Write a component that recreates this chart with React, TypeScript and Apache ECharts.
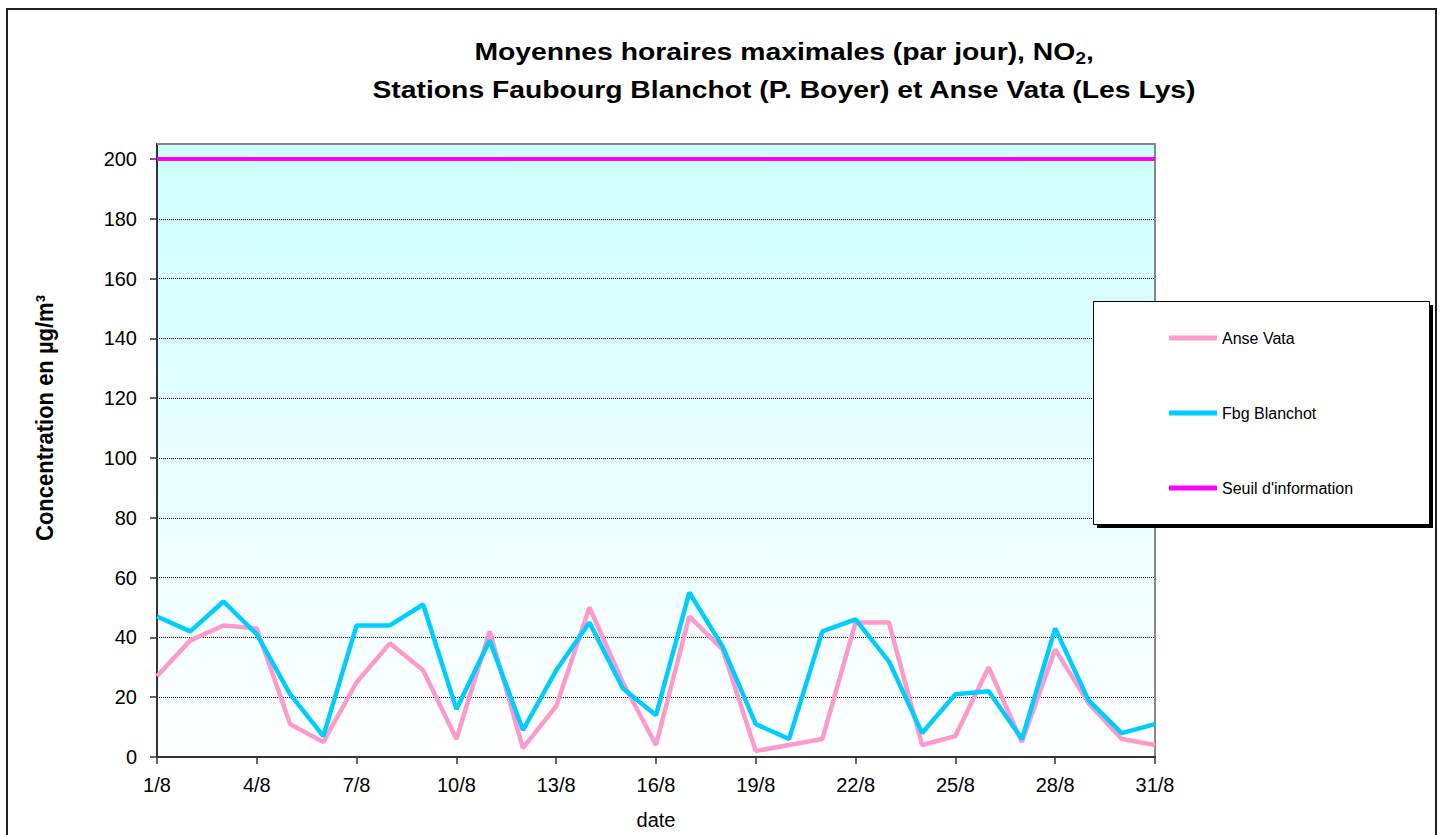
import React, { useEffect, useRef } from "react";
import * as echarts from "echarts";

const days = [
  "1/8", "2/8", "3/8", "4/8", "5/8", "6/8", "7/8", "8/8", "9/8", "10/8",
  "11/8", "12/8", "13/8", "14/8", "15/8", "16/8", "17/8", "18/8", "19/8", "20/8",
  "21/8", "22/8", "23/8", "24/8", "25/8", "26/8", "27/8", "28/8", "29/8", "30/8", "31/8",
];
const anseVata = [27, 39, 44, 43, 11, 5, 25, 38, 29, 6, 42, 3, 17, 50, 25, 4, 47, 36, 2, 4, 6, 45, 45, 4, 7, 30, 5, 36, 18, 6, 4];
const fbgBlanchot = [47, 42, 52, 41, 21, 7, 44, 44, 51, 16, 39, 9, 29, 45, 23, 14, 55, 37, 11, 6, 42, 46, 32, 8, 21, 22, 6, 43, 19, 8, 11];
const seuil = [200, 200, 200, 200, 200, 200, 200, 200, 200, 200, 200, 200, 200, 200, 200, 200, 200, 200, 200, 200, 200, 200, 200, 200, 200, 200, 200, 200, 200, 200, 200];
const yTicks = [0, 20, 40, 60, 80, 100, 120, 140, 160, 180, 200];

const FONT = "Arial, 'Liberation Sans', sans-serif";

export default function App() {
  const ref = useRef<HTMLDivElement>(null);
  useEffect(() => {
    if (!ref.current) return;
    const chart = echarts.init(ref.current, null, { renderer: "svg" });
    chart.setOption({
      animation: false,
      backgroundColor: "#ffffff",
      grid: {
        left: 157,
        top: 144,
        right: 289,
        bottom: 68,
        show: true,
        borderColor: "#888",
        borderWidth: 2,
        backgroundColor: new echarts.graphic.LinearGradient(0, 0, 0, 1, [
          { offset: 0, color: "#ccffff" },
          { offset: 1, color: "#ffffff" },
        ]),
      },
      legend: {
        orient: "vertical",
        left: 1169,
        top: 330,
        padding: 0,
        icon: "rect",
        itemWidth: 48,
        itemHeight: 5,
        itemGap: 59,
        z: 60,
        textStyle: { fontFamily: FONT, fontSize: 16, lineHeight: 16, color: "#000" },
        data: ["Anse Vata", "Fbg Blanchot", "Seuil d'information"],
      },
      xAxis: {
        type: "category",
        data: days,
        boundaryGap: false,
        name: "date",
        nameLocation: "middle",
        nameGap: 53,
        nameTextStyle: { fontFamily: FONT, fontSize: 20, color: "#000" },
        axisLine: { lineStyle: { color: "#333", width: 2 } },
        axisTick: { interval: 2, length: 7, lineStyle: { color: "#333", width: 1.5 } },
        axisLabel: { interval: 2, margin: 18, fontFamily: FONT, fontSize: 20, color: "#000" },
        splitLine: { show: false },
      },
      yAxis: {
        type: "value",
        min: 0,
        max: 205,
        interval: 20,
        axisLine: { show: true, lineStyle: { color: "#333", width: 2 } },
        axisTick: { show: true, length: 7, customValues: yTicks, lineStyle: { color: "#333", width: 1.5 } },
        axisLabel: {
          margin: 20,
          customValues: yTicks,
          fontFamily: FONT,
          fontSize: 20,
          color: "#000",
          formatter: (v: number) => (v % 20 === 0 ? String(v) : ""),
        },
        splitLine: { show: true, lineStyle: { color: "#000", width: 1, type: [1, 1] } },
      },
      graphic: [
        {
          type: "rect",
          z: 1,
          silent: true,
          shape: { x: 7, y: 9, width: 1429, height: 900 },
          style: { fill: "none", stroke: "#222", lineWidth: 2 },
        },
        {
          type: "line",
          z: 40,
          silent: true,
          shape: { x1: 157, y1: 144, x2: 1156, y2: 144 },
          style: { stroke: "#888", lineWidth: 2 },
        },
        {
          type: "rect",
          z: 50,
          silent: true,
          shape: { x: 1097, y: 305, width: 336, height: 223 },
          style: { fill: "#000" },
        },
        {
          type: "rect",
          z: 51,
          silent: true,
          shape: { x: 1093.5, y: 301.5, width: 336, height: 223 },
          style: { fill: "#fff", stroke: "#000", lineWidth: 1 },
        },
        {
          type: "text",
          z: 52,
          silent: true,
          x: 784,
          y: 52,
          scaleX: 1.18,
          style: {
            text: "{main|Moyennes horaires maximales (par jour), NO}{sub|2}{main|,}",
            fontFamily: FONT,
            fontSize: 24,
            fontWeight: "bold",
            fill: "#000",
            align: "center",
            verticalAlign: "middle",
            lineHeight: 30,
            rich: {
              main: { fontFamily: FONT, fontSize: 24, fontWeight: "bold", fill: "#000", lineHeight: 30, verticalAlign: "middle" },
              sub: { fontFamily: FONT, fontSize: 16, fontWeight: "bold", fill: "#000", lineHeight: 16, verticalAlign: "bottom" },
            },
          },
        },
        {
          type: "text",
          z: 52,
          silent: true,
          x: 784,
          y: 90,
          scaleX: 1.18,
          style: {
            text: "Stations Faubourg Blanchot (P. Boyer) et Anse Vata (Les Lys)",
            fontFamily: FONT,
            fontSize: 24,
            fontWeight: "bold",
            fill: "#000",
            align: "center",
            verticalAlign: "middle",
          },
        },
        {
          type: "text",
          z: 52,
          silent: true,
          x: 45,
          y: 418,
          rotation: Math.PI / 2,
          scaleY: 1.1,
          style: {
            text: "Concentration en µg/m³",
            fontFamily: FONT,
            fontSize: 22,
            fontWeight: "bold",
            fill: "#000",
            align: "center",
            verticalAlign: "middle",
          },
        },
      ],
      series: [
        {
          name: "Anse Vata",
          type: "line",
          data: anseVata,
          symbol: "none",
          lineStyle: { color: "#ff99cc", width: 4.5 },
          itemStyle: { color: "#ff99cc" },
          z: 3,
        },
        {
          name: "Fbg Blanchot",
          type: "line",
          data: fbgBlanchot,
          symbol: "none",
          lineStyle: { color: "#00ccff", width: 4.5 },
          itemStyle: { color: "#00ccff" },
          z: 4,
        },
        {
          name: "Seuil d'information",
          type: "line",
          data: seuil,
          symbol: "none",
          lineStyle: { color: "#ff00ff", width: 4 },
          itemStyle: { color: "#ff00ff" },
          z: 5,
        },
      ],
    });
    return () => chart.dispose();
  }, []);
  return (
    <div
      ref={ref}
      style={{ position: "fixed", left: 0, top: 0, width: 1444, height: 835, background: "#fff" }}
    />
  );
}
